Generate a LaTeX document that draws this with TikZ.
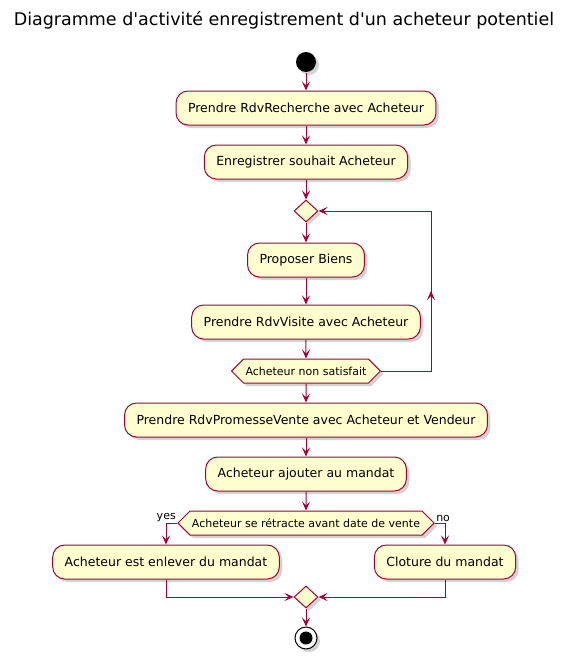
\documentclass[tikz,border=0pt]{standalone}
\usepackage{fontspec}
\setmainfont{DejaVu Sans}
\usetikzlibrary{
  arrows.meta, positioning,
  shapes.geometric, shapes.symbols, shadows
}
\definecolor{umlred}{HTML}{A80036}
\definecolor{umlfill}{HTML}{FEFECE}

\begin{document}
\begin{tikzpicture}[x=1pt,y=-1pt,
    line width=1pt,
    shade/.style={drop shadow={opacity=0.35,shadow xshift=3pt,shadow yshift=-3pt}},
    act/.style={draw=umlred,fill=umlfill,rounded corners=12pt,minimum height=34pt,
      inner xsep=12pt,font=\fontsize{12.5}{15}\selectfont,shade},
    choice/.style={draw=umlred,fill=umlfill,diamond,minimum width=24pt,minimum height=22pt,
      inner sep=0pt,shade},
    cond/.style={draw=umlred,fill=umlfill,signal,signal to=west and east,signal pointer angle=90,
      minimum height=24pt,inner xsep=2pt,font=\fontsize{11}{13}\selectfont,shade},
    flow/.style={draw=umlred,-{Stealth[length=9pt,width=8pt,inset=4pt]}},
    wire/.style={draw=umlred}
  ]
  \useasboundingbox (0,0) rectangle (567,659);
  \node[font=\fontsize{17.5}{21}\selectfont] (title) at (284,20) {Diagramme d\textquotesingle activité enregistrement d\textquotesingle un acheteur potentiel};

  \node[circle,fill=black,minimum size=20pt,inner sep=0pt,shade] (start) at (306,62) {};
  \node[act] (rdvrech) at (306,108) {Prendre RdvRecherche avec Acheteur};
  \node[act] (souhait) at (306,162) {Enregistrer souhait Acheteur};
  \node[choice] (loopin) at (306,211) {};
  \node[act] (biens) at (306,260) {Proposer Biens};
  \node[act] (visite) at (306,322) {Prendre RdvVisite avec Acheteur};
  \node[cond] (satisf) at (306,371) {Acheteur non satisfait};
  \node[act] (promesse) at (306,420) {Prendre RdvPromesseVente avec Acheteur et Vendeur};
  \node[act] (mandat) at (306,474) {Acheteur ajouter au mandat};
  \node[cond] (retract) at (306,523) {Acheteur se rétracte avant date de vente};
  \node[act] (enlever) at (166,562) {Acheteur est enlever du mandat};
  \node[act] (cloture) at (445,562) {Cloture du mandat};
  \node[choice] (merge) at (306,597) {};
  \node[circle,draw=black,fill=white,minimum size=22pt,inner sep=0pt,shade] (stop) at (306,638) {};
  \node[circle,fill=black,minimum size=13pt,inner sep=0pt] (stopdot) at (stop) {};

  \draw[flow] (start) -- (rdvrech);
  \draw[flow] (rdvrech) -- (souhait);
  \draw[flow] (souhait) -- (loopin);
  \draw[flow] (loopin) -- (biens);
  \draw[flow] (biens) -- (visite);
  \draw[flow] (visite) -- (satisf);
  \draw[flow] (satisf) -- (promesse);
  \draw[flow] (promesse) -- (mandat);
  \draw[flow] (mandat) -- (retract);
  % loop back
  \coordinate (backlow) at (431,371);
  \coordinate (backmid) at (431,291);
  \coordinate (backtop) at (431,211);
  \draw[wire] (satisf.east) -- (backlow) -- (backtop);
  \draw[flow] (backlow) -- (backmid);
  \draw[flow] (backtop) -- (loopin.east);
  % branches
  \draw[flow] (retract.west) -| (enlever.north);
  \draw[flow] (retract.east) -| (cloture.north);
  \node[anchor=south east,inner sep=1pt,font=\fontsize{11}{13}\selectfont] (yes) at (retract.west) {yes};
  \node[anchor=south west,inner sep=1pt,font=\fontsize{11}{13}\selectfont] (no) at (retract.east) {no};
  \draw[flow] (enlever.south) |- (merge.west);
  \draw[flow] (cloture.south) |- (merge.east);
  \draw[flow] (merge) -- (stop);
\end{tikzpicture}
\end{document}
